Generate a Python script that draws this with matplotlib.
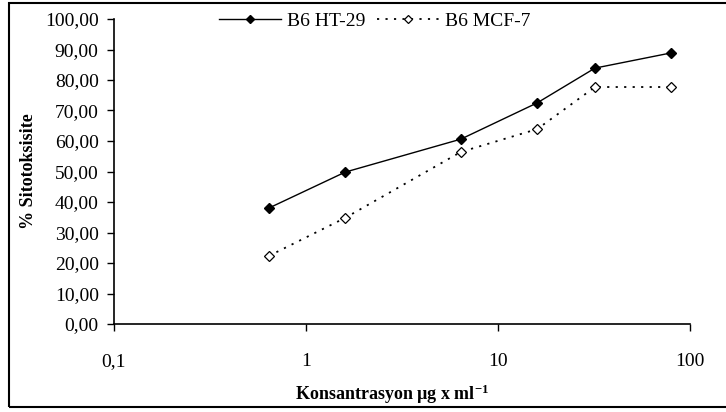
import matplotlib
matplotlib.use("Agg")
import matplotlib.pyplot as plt
from matplotlib.patches import Rectangle
from matplotlib.ticker import FixedLocator, FuncFormatter

# Concentrations (µg/ml) and cytotoxicity (%) for compound B6
concentration = [0.64, 1.6, 6.4, 16, 32, 80]
ht29 = [38.0, 49.8, 60.6, 72.5, 83.9, 88.9]
mcf7 = [22.3, 34.8, 56.4, 63.9, 77.7, 77.7]

series_names = ["B6 HT-29", "B6 MCF-7"]
x_ticks = [0.1, 1, 10, 100]
x_tick_labels = ["0,1", "1", "10", "100"]
y_ticks = [0, 10, 20, 30, 40, 50, 60, 70, 80, 90, 100]

plt.rcParams["font.family"] = ["Liberation Serif", "DejaVu Serif"]
plt.rcParams["mathtext.fontset"] = "custom"
plt.rcParams["mathtext.rm"] = "Liberation Serif:bold"
plt.rcParams["mathtext.default"] = "rm"

W, H = 726, 412
fig = plt.figure(figsize=(W / 100, H / 100), dpi=100)
ax = fig.add_axes([114 / W, 1 - 324 / H, (690 - 114) / W, (324 - 19) / H])

ax.plot(concentration, ht29, color="black", lw=1.0, marker="D", ms=5.5,
        mfc="black", mec="black", label=series_names[0])
ax.plot(concentration, mcf7, color="black", lw=1.3, ls=(0, (1.2, 3.5)),
        marker="D", ms=5, mfc="white", mec="black", mew=0.9,
        label=series_names[1])

ax.set_xscale("log")
ax.set_xlim(0.1, 100)
ax.set_ylim(0, 100)
ax.xaxis.set_major_locator(FixedLocator(x_ticks))
ax.xaxis.set_minor_locator(FixedLocator([]))
ax.set_xticklabels(x_tick_labels)
ax.set_yticks(y_ticks)
ax.yaxis.set_major_formatter(FuncFormatter(lambda v, p: f"{v:.2f}".replace(".", ",")))

for side in ("top", "right"):
    ax.spines[side].set_visible(False)
for side in ("left", "bottom"):
    ax.spines[side].set_linewidth(1.2)

ax.tick_params(axis="y", direction="out", length=5, width=1.0, pad=6, labelsize=14)
ax.tick_params(axis="x", direction="out", length=5, width=1.0, pad=16, labelsize=14)

ax.set_ylabel("% Sitotoksisite", fontsize=13, fontweight="bold")
ax.set_xlabel("Konsantrasyon µg x ml$^{-1}$", fontsize=13, fontweight="bold")
ax.xaxis.set_label_coords((392 - 114) / (690 - 114), -(383 - 324) / (324 - 19))
ax.yaxis.set_label_coords(-(114 - 37) / (690 - 114), 0.5)

leg = ax.legend(loc="upper center", bbox_to_anchor=(0.453, 1.08), ncol=2,
                frameon=False, fontsize=14, handlelength=3.2,
                columnspacing=0.6, handletextpad=0.3, markerscale=0.8)

fig.patches.append(Rectangle((9 / W, 1 - 407 / H), (740 - 9) / W,
                             (407 - 3) / H, transform=fig.transFigure,
                             fill=False, edgecolor="black", lw=1.5))

fig.savefig("out.png", dpi=100)
